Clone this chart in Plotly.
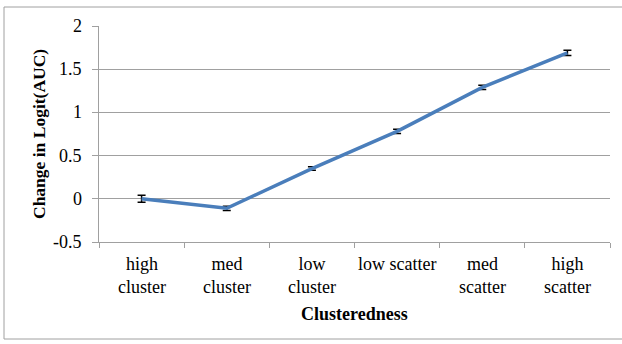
import plotly.graph_objects as go

categories = ["high cluster", "med cluster", "low cluster", "low scatter", "med scatter", "high scatter"]
cat_labels = ["high<br>cluster", "med<br>cluster", "low<br>cluster", "low scatter", "med<br>scatter", "high<br>scatter"]
values = [0.0, -0.11, 0.35, 0.78, 1.29, 1.69]
errors = [0.04, 0.025, 0.02, 0.025, 0.025, 0.03]
y_ticks = [-0.5, 0, 0.5, 1, 1.5, 2]
y_tick_text = ["-0.5", "0", "0.5", "1", "1.5", "2"]
x_title = "Clusteredness"
y_title = "Change in Logit(AUC)"

W, H = 622, 344
ML, MR, MT, MB = 99, 12, 26, 102
pw, ph = W - ML - MR, H - MT - MB

fig = go.Figure()
fig.add_trace(go.Scatter(
    x=categories, y=values, mode="lines",
    line=dict(color="#4a7ebb", width=3.5),
    error_y=dict(type="data", array=errors, visible=True, color="black", thickness=1.5, width=4),
    showlegend=False,
))

font = "Tinos, Liberation Serif, Times New Roman, serif"
grid = "#a0a0a0"

annotations = []
for cat, lab in zip(categories, cat_labels):
    annotations.append(dict(
        x=cat, xref="x", y=0, yref="paper", yanchor="top", xanchor="center",
        yshift=-10, showarrow=False, text=lab, align="center",
        font=dict(family=font, size=18, color="black"),
    ))
for v, t in zip(y_ticks, y_tick_text):
    annotations.append(dict(
        x=0, xref="paper", y=v, yref="y", xanchor="right", yanchor="middle",
        xshift=-15, showarrow=False, text=t,
        font=dict(family=font, size=18, color="black"),
    ))
annotations.append(dict(
    x=0.5, xref="paper", y=0, yref="paper", xanchor="center", yanchor="middle",
    yshift=-72, showarrow=False, text="<b>" + x_title + "</b>",
    font=dict(family=font, size=18, color="black"),
))
annotations.append(dict(
    x=0, xref="paper", y=0.5, yref="paper", xanchor="center", yanchor="middle",
    xshift=-60, showarrow=False, text="<b>" + y_title + "</b>", textangle=-90,
    font=dict(family=font, size=17.5, color="black"),
))

fig.update_layout(
    width=W, height=H,
    margin=dict(l=ML, r=MR, t=MT, b=MB, pad=0),
    paper_bgcolor="white", plot_bgcolor="white",
    xaxis=dict(
        type="category", range=[-0.5, 5.5], tickson="boundaries",
        ticks="outside", ticklen=5, tickcolor=grid, tickwidth=1,
        showline=True, linecolor=grid, linewidth=1, showgrid=False,
        showticklabels=False, automargin=False, zeroline=False,
    ),
    yaxis=dict(
        range=[-0.5, 2], tickvals=y_ticks,
        ticks="outside", ticklen=6, tickcolor=grid, tickwidth=1,
        showline=True, linecolor=grid, linewidth=1,
        showgrid=True, gridcolor=grid, gridwidth=1, zeroline=False,
        showticklabels=False, automargin=False,
    ),
    annotations=annotations,
    shapes=[dict(
        type="rect", xref="paper", yref="paper",
        x0=(4 - ML) / pw, x1=(W + 5 - ML) / pw,
        y0=(H - MB - 339) / ph, y1=(H - MB - 7) / ph,
        line=dict(color="#a0a0a0", width=1), layer="below",
    )],
)

fig.write_html("out.html")
